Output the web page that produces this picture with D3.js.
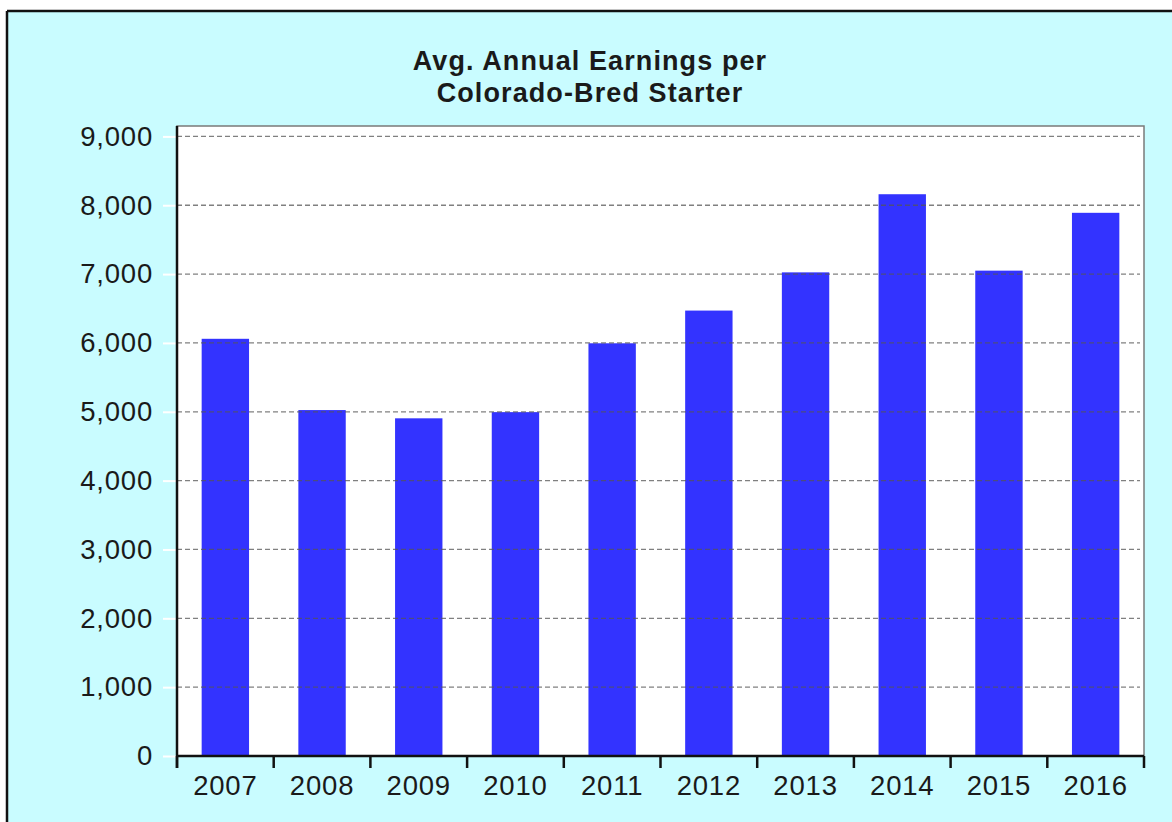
<!DOCTYPE html>
<html>
<head>
<meta charset="utf-8">
<script src="https://cdn.jsdelivr.net/npm/d3@7"></script>
<style>
  html, body { margin: 0; padding: 0; background: #ffffff; }
  svg { display: block; }
</style>
</head>
<body>
<svg id="chart" width="1172" height="822"></svg>
<script>
const years = ["2007","2008","2009","2010","2011","2012","2013","2014","2015","2016"];
const earnings = [6060, 5025, 4905, 4995, 5995, 6470, 7025, 8160, 7050, 7890];
const yTicks = [0, 1000, 2000, 3000, 4000, 5000, 6000, 7000, 8000, 9000];
const titleLines = ["Avg. Annual Earnings per", "Colorado-Bred Starter"];

const svg = d3.select("#chart");
const W = 1172, H = 822;
const plot = { left: 177, right: 1144, top: 126, bottom: 756 };

// background panel
svg.append("rect").attr("x", 0).attr("y", 0).attr("width", W).attr("height", H).attr("fill", "#ffffff");
svg.append("rect").attr("x", 7).attr("y", 11).attr("width", W - 7).attr("height", H - 11).attr("fill", "#c9fcff");
// outer border (top & left)
svg.append("line").attr("x1", 7).attr("x2", W).attr("y1", 11).attr("y2", 11).attr("stroke", "#111").attr("stroke-width", 2.5);
svg.append("line").attr("x1", 7).attr("x2", 7).attr("y1", 11).attr("y2", H).attr("stroke", "#111").attr("stroke-width", 2.5);

// title
const title = svg.append("text")
  .attr("x", 590).attr("text-anchor", "middle")
  .attr("font-family", "Liberation Sans, Arial, sans-serif")
  .attr("font-weight", "bold").attr("font-size", 27)
  .attr("letter-spacing", 1.1)
  .attr("fill", "#1a1a1a");
titleLines.forEach((t, i) => {
  title.append("tspan").attr("x", 590).attr("y", 70 + i * 32).text(t);
});

// plot area
svg.append("rect")
  .attr("x", plot.left).attr("y", plot.top)
  .attr("width", plot.right - plot.left).attr("height", plot.bottom - plot.top)
  .attr("fill", "#ffffff").attr("stroke", "#7a7a7a").attr("stroke-width", 1.5);

const x = d3.scaleBand().domain(years).range([plot.left, plot.right])
  .paddingInner(0.51).paddingOuter(0.255);
const y = d3.scaleLinear().domain([0, 9000]).range([plot.bottom, 136.4]);

// bars
svg.append("g").selectAll("rect").data(years).join("rect")
  .attr("x", d => x(d))
  .attr("width", x.bandwidth())
  .attr("y", (d, i) => y(earnings[i]))
  .attr("height", (d, i) => y(0) - y(earnings[i]))
  .attr("fill", "#3333ff");

// gridlines (over bars)
svg.append("g").selectAll("line").data(yTicks.filter(v => v > 0)).join("line")
  .attr("x1", plot.left).attr("x2", plot.right - 4)
  .attr("y1", d => y(d)).attr("y2", d => y(d))
  .attr("stroke", "#555").attr("stroke-opacity", 0.75)
  .attr("stroke-width", 1.3).attr("stroke-dasharray", "5,3");

// y axis
const yAxis = d3.axisLeft(y).tickValues(yTicks).tickSize(14).tickPadding(10)
  .tickFormat(d3.format(","));
const gy = svg.append("g").attr("transform", `translate(${plot.left},0)`).call(yAxis);
gy.select(".domain").remove();
gy.selectAll(".tick line").attr("stroke", "#ffffff").attr("stroke-width", 2);
gy.selectAll(".tick text")
  .attr("font-family", "Liberation Sans, Arial, sans-serif")
  .attr("font-size", 27.5).attr("fill", "#1a1a1a").attr("letter-spacing", 0.8);
svg.append("line").attr("x1", plot.left).attr("x2", plot.left)
  .attr("y1", plot.top).attr("y2", plot.bottom + 12)
  .attr("stroke", "#111").attr("stroke-width", 2.5);

// x axis
const xAxis = d3.axisBottom(x).tickSize(0).tickPadding(19);
const gx = svg.append("g").attr("transform", `translate(0,${plot.bottom})`).call(xAxis);
gx.select(".domain").remove();
gx.selectAll(".tick text")
  .attr("font-family", "Liberation Sans, Arial, sans-serif")
  .attr("font-size", 27.5).attr("fill", "#1a1a1a").attr("letter-spacing", 0.8);
svg.append("line").attr("x1", plot.left).attr("x2", plot.right)
  .attr("y1", plot.bottom).attr("y2", plot.bottom)
  .attr("stroke", "#111").attr("stroke-width", 2.5);
// category boundary ticks
const boundaries = years.map(d => x(d) - x.step() * x.paddingInner() / 2).concat([plot.right]);
svg.append("g").selectAll("line").data(boundaries).join("line")
  .attr("x1", d => d).attr("x2", d => d)
  .attr("y1", plot.bottom).attr("y2", plot.bottom + 12)
  .attr("stroke", "#111").attr("stroke-width", 2.5);
</script>
</body>
</html>
